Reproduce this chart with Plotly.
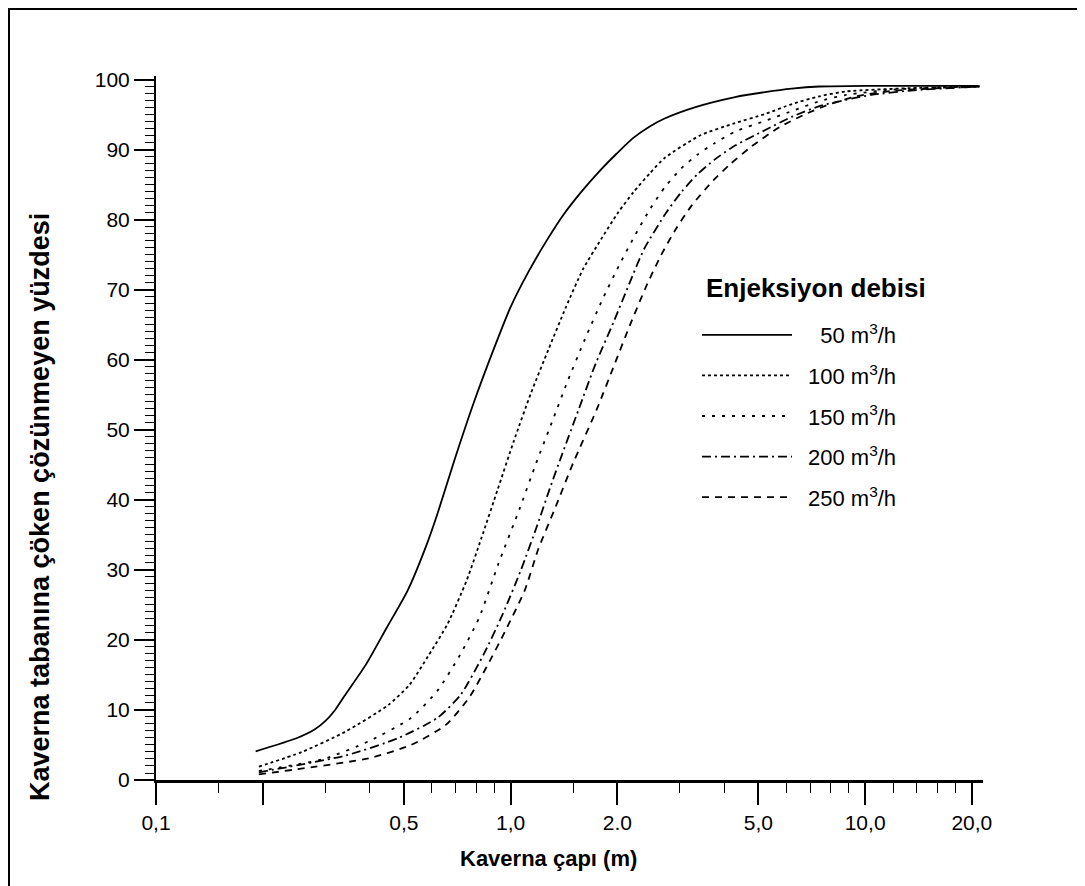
import plotly.graph_objects as go
import math

# ---- data (x = Kaverna çapı in m, y = percent) ----
x_50 = [0.191, 0.25, 0.28, 0.30, 0.32, 0.34, 0.39, 0.447, 0.512, 0.58, 0.622, 0.698, 0.789, 0.893, 1.0, 1.125, 1.264,
        1.41, 1.585, 1.78, 1.99, 2.21, 2.45, 2.71, 3.34, 4.3, 5.22, 6.21, 7.43, 10.0, 14.0, 21.0]
y_50 = [4.1, 6.0, 7.2, 8.4, 10.0, 12.0, 16.4, 21.7, 27.0, 33.6, 38.0, 46.0, 54.0, 61.3, 67.5, 72.6, 77.0,
        80.7, 84.0, 86.9, 89.4, 91.6, 93.2, 94.4, 96.1, 97.5, 98.2, 98.7, 99.0, 99.1, 99.1, 99.1]

x_100 = [0.195, 0.258, 0.342, 0.452, 0.519, 0.589, 0.663, 0.752, 0.827, 0.92, 1.02, 1.143, 1.28, 1.43, 1.60,
         1.80, 2.01, 2.22, 2.47, 2.72, 3.42, 4.25, 5.24, 6.22, 7.43, 8.83, 14.0, 21.0]
y_100 = [1.9, 4.0, 6.9, 10.7, 13.6, 17.9, 22.2, 28.5, 34.5, 41.5, 48.3, 55.3, 61.5, 67.4, 72.9,
         77.2, 81.0, 83.9, 86.6, 88.8, 92.0, 93.7, 95.1, 96.5, 97.6, 98.3, 98.8, 99.0]

x_150 = [0.195, 0.297, 0.397, 0.522, 0.621, 0.721, 0.816, 0.923, 1.06, 1.18, 1.32, 1.445, 1.62, 1.82, 2.03,
         2.24, 2.48, 2.73, 3.03, 3.37, 3.76, 4.31, 5.23, 6.22, 7.43, 8.83, 12.3, 21.0]
y_150 = [1.3, 3.0, 5.5, 8.8, 12.7, 17.9, 23.2, 30.8, 38.7, 45.2, 51.6, 56.8, 62.9, 68.7, 73.6,
         77.7, 81.6, 84.7, 87.3, 89.3, 90.9, 92.6, 94.1, 95.5, 96.9, 97.8, 98.6, 99.0]

x_200 = [0.195, 0.343, 0.483, 0.623, 0.724, 0.839, 0.951, 1.07, 1.19, 1.29, 1.40, 1.556, 1.74, 1.95, 2.16,
         2.38, 2.74, 3.04, 3.37, 3.77, 4.31, 5.23, 6.23, 7.43, 8.83, 10.4, 14.0, 21.0]
y_200 = [1.1, 3.5, 6.0, 8.9, 12.2, 17.9, 23.7, 30.0, 36.4, 41.6, 46.6, 52.9, 59.5, 65.3, 70.8,
         75.8, 80.9, 84.0, 86.5, 88.6, 90.6, 92.8, 94.7, 96.2, 97.1, 97.8, 98.5, 99.0]

x_250 = [0.195, 0.398, 0.524, 0.658, 0.765, 0.855, 0.969, 1.097, 1.196, 1.34, 1.50, 1.75, 1.97, 2.17, 2.40,
         2.65, 2.92, 3.24, 3.73, 4.14, 4.77, 5.73, 6.81, 8.07, 9.66, 12.1, 21.0]
y_250 = [0.8, 3.1, 5.0, 7.9, 11.8, 16.1, 21.4, 27.1, 32.9, 39.0, 45.2, 52.9, 59.5, 64.9, 70.2,
         74.8, 78.6, 82.0, 85.6, 87.8, 90.4, 93.2, 95.1, 96.6, 97.7, 98.4, 99.0]

series_names = ["\u2002\u200750 m<sup>3</sup>/h", "\u2002100 m<sup>3</sup>/h", "\u2002150 m<sup>3</sup>/h",
                "\u2002200 m<sup>3</sup>/h", "\u2002250 m<sup>3</sup>/h"]
series_x = [x_50, x_100, x_150, x_200, x_250]
series_y = [y_50, y_100, y_150, y_200, y_250]
series_dash = ["solid", "dot", "3px,7px", "9px,4px,2px,4px", "7px,6px"]
legend_title = "Enjeksiyon debisi"

x_tickvals = [0.1, 0.2, 0.5, 1.0, 2.0, 5.0, 10.0, 20.0]
x_ticktext = ["0,1", "", "0,5", "1,0", "2.0", "5,0", "10,0", "20,0"]
x_minor = [0.15, 0.3, 0.4, 0.6, 0.7, 0.8, 0.9, 1.5, 3, 4, 6, 7, 8, 9, 12, 14, 16, 18]
y_tickvals = [0, 10, 20, 30, 40, 50, 60, 70, 80, 90, 100]

FONT = "Liberation Sans, Arial, sans-serif"

# plot area in figure pixels
L, R, T, B = 148, 110, 68, 114
W, H = 1085, 886
PW, PH = W - L - R, H - T - B


def px(xpix):
    return (xpix - L) / PW


def py(ypix):
    return (H - B - ypix) / PH


fig = go.Figure()
for i in range(5):
    fig.add_trace(go.Scatter(
        x=series_x[i], y=series_y[i], mode="lines", name=series_names[i],
        legendgroup=f"g{i}",
        line=dict(color="black", width=1.8, dash=series_dash[i], shape="spline", smoothing=0.6),
    ))

fig.update_layout(
    width=W, height=H,
    margin=dict(l=L, r=R, t=T, b=B),
    paper_bgcolor="white", plot_bgcolor="white",
    font=dict(family=FONT, color="black", size=22),
    showlegend=True,
    legend=dict(
        x=px(689), y=py(306), xanchor="left", yanchor="top",
        font=dict(size=22, family=FONT),
        tracegroupgap=9, itemwidth=90,
        bgcolor="rgba(0,0,0,0)",
    ),
)

fig.update_xaxes(
    type="log", range=[-1, math.log10(21.5)],
    showline=True, linecolor="black", linewidth=2.5,
    showgrid=False, zeroline=False,
    tickmode="array", tickvals=x_tickvals, ticktext=x_ticktext,
    ticks="outside", ticklen=22, tickwidth=1.5, tickcolor="black",
    tickfont=dict(size=21, family=FONT),
    minor=dict(tickmode="array", tickvals=x_minor, ticks="outside", ticklen=10,
               tickwidth=1.2, tickcolor="black", showgrid=False),
)
fig.update_yaxes(
    range=[0, 100.5],
    showline=True, linecolor="black", linewidth=2,
    showgrid=False, zeroline=False,
    tickmode="array", tickvals=y_tickvals,
    ticks="outside", ticklen=20, tickwidth=1.5, tickcolor="black",
    tickfont=dict(size=21, family=FONT),
    minor=dict(dtick=1, ticks="outside", ticklen=9, tickwidth=1, tickcolor="black", showgrid=False),
)

# legend heading
fig.add_annotation(
    text=f"<b>{legend_title}</b>",
    xref="paper", yref="paper", x=px(696), y=py(280),
    showarrow=False, font=dict(size=26, family=FONT), xanchor="left", yanchor="middle",
)

# axis titles
fig.add_annotation(
    text="<b>Kaverna tabanına çöken çözünmeyen yüzdesi</b>",
    xref="paper", yref="paper", x=px(32), y=py(499), textangle=-90,
    showarrow=False, font=dict(size=27, family=FONT), xanchor="center", yanchor="middle",
)
fig.add_annotation(
    text="<b>Kaverna çapı (m)</b>",
    xref="paper", yref="paper", x=px(540), y=py(850),
    showarrow=False, font=dict(size=22, family=FONT), xanchor="center", yanchor="middle",
)

# outer frame of the scanned figure
fig.add_shape(type="rect", xref="paper", yref="paper",
              x0=px(1), x1=px(1070), y0=-0.3, y1=py(1),
              line=dict(color="black", width=2), fillcolor="rgba(0,0,0,0)", layer="below")

fig.write_html("out.html")
